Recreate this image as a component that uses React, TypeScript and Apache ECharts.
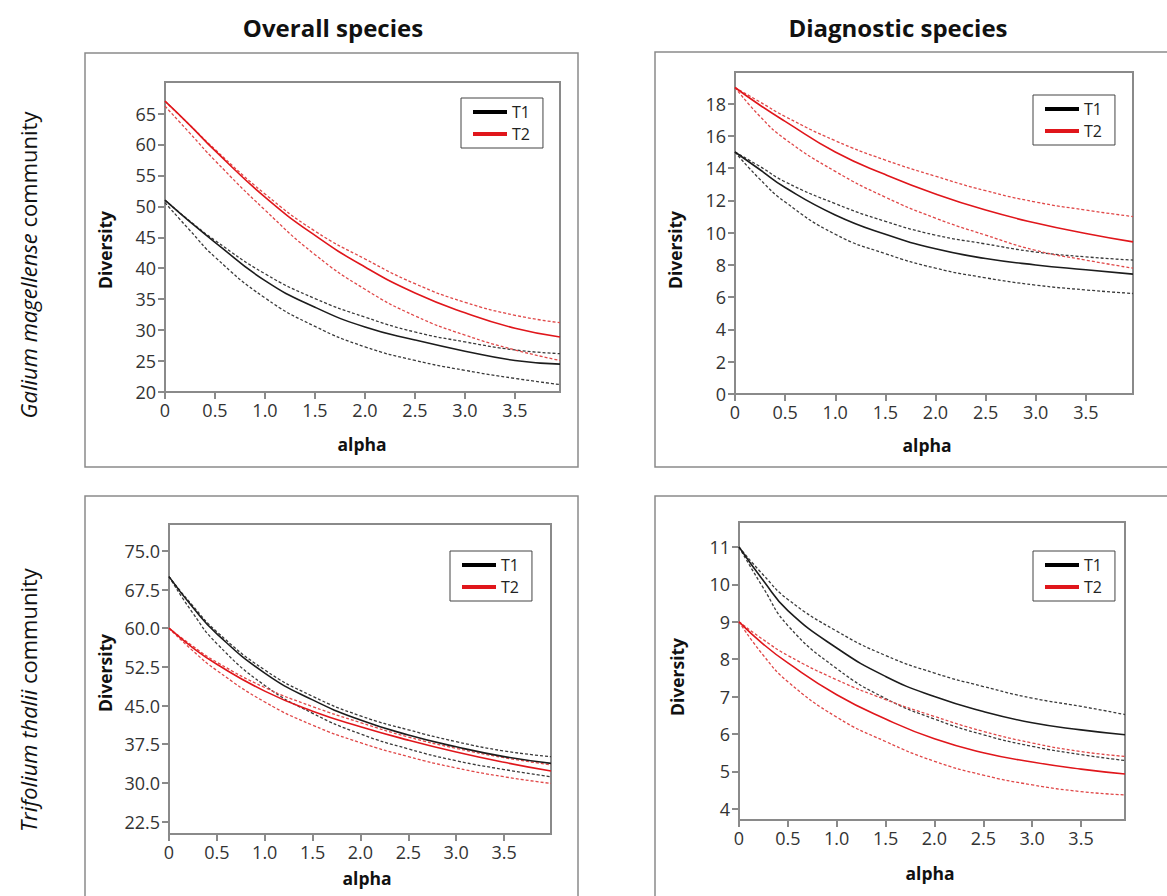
import React, { useEffect, useRef } from 'react';
import * as echarts from 'echarts';

// ---------- data ----------
const ALPHA = [0, 0.25, 0.5, 1.0, 1.5, 2.0, 2.5, 3.0, 3.5];
const X_END = [3.95, 3.97, 3.99, 3.95];
const X_TICKS = [0, 0.5, 1.0, 1.5, 2.0, 2.5, 3.0, 3.5];

const COL_TITLES = ['Overall species', 'Diagnostic species'];
const ROW_SPECIES = ['Galium magellense', 'Trifolium thalii'];
const LEGEND_NAMES = ['T1', 'T2'];

// Galium magellense – overall species
const GO_T1 = [51, 47.5, 44.2, 38.0, 33.7, 30.5, 28.4, 26.6, 25.1, 24.5];
const GO_T1_UP = [51, 47.6, 44.5, 39.1, 35.1, 32.1, 29.7, 28.1, 26.8, 26.2];
const GO_T1_LO = [50.6, 46.1, 41.8, 35.2, 30.6, 27.3, 25.1, 23.5, 22.2, 21.2];
const GO_T2 = [67, 63.1, 59.0, 51.5, 45.3, 40.2, 36.0, 32.8, 30.3, 28.9];
const GO_T2_UP = [67, 63.1, 59.2, 52.0, 46.0, 41.5, 37.5, 34.5, 32.4, 31.2];
const GO_T2_LO = [66.2, 61.8, 57.4, 49.4, 42.2, 36.6, 32.3, 29.2, 26.8, 25.1];

// Galium magellense – diagnostic species
const GD_T1 = [15, 13.9, 12.8, 11.1, 9.9, 9.0, 8.4, 8.0, 7.7, 7.43];
const GD_T1_UP = [15, 14.1, 13.15, 11.8, 10.7, 9.85, 9.3, 8.8, 8.5, 8.3];
const GD_T1_LO = [15, 13.3, 11.9, 9.9, 8.7, 7.8, 7.2, 6.75, 6.45, 6.23];
const GD_T2 = [19, 17.9, 16.9, 15.0, 13.6, 12.4, 11.4, 10.6, 9.95, 9.43];
const GD_T2_UP = [19, 18.1, 17.2, 15.7, 14.5, 13.5, 12.6, 11.9, 11.4, 11.0];
const GD_T2_LO = [19, 17.2, 15.8, 13.8, 12.2, 10.9, 9.85, 8.9, 8.3, 7.8];

// Trifolium thalii – overall species
const TO_T1 = [70, 64.0, 58.9, 51.3, 46.1, 42.2, 39.3, 37.0, 35.1, 33.8];
const TO_T1_UP = [70, 64.3, 59.3, 51.9, 46.8, 43.0, 40.3, 38.0, 36.2, 35.1];
const TO_T1_LO = [70, 62.9, 57.0, 48.9, 43.5, 39.5, 36.6, 34.3, 32.6, 31.2];
const TO_T2 = [60, 56.2, 53.0, 47.8, 43.9, 40.9, 38.3, 36.0, 34.0, 32.3];
const TO_T2_UP = [60, 56.5, 53.4, 48.5, 44.8, 41.7, 38.9, 36.7, 34.9, 33.5];
const TO_T2_LO = [60, 55.6, 51.8, 45.7, 41.2, 37.8, 35.1, 32.9, 31.2, 29.9];

// Trifolium thalii – diagnostic species
const TD_T1 = [11, 10.1, 9.3, 8.3, 7.54, 7.0, 6.6, 6.3, 6.11, 5.98];
const TD_T1_UP = [11, 10.25, 9.6, 8.75, 8.1, 7.63, 7.27, 6.96, 6.74, 6.52];
const TD_T1_LO = [11, 9.9, 8.9, 7.75, 6.95, 6.4, 5.98, 5.67, 5.45, 5.29];
const TD_T2 = [9, 8.4, 7.9, 7.05, 6.4, 5.87, 5.5, 5.25, 5.06, 4.93];
const TD_T2_UP = [9, 8.52, 8.1, 7.45, 6.92, 6.47, 6.07, 5.76, 5.53, 5.4];
const TD_T2_LO = [9, 8.1, 7.4, 6.45, 5.8, 5.27, 4.9, 4.64, 4.46, 4.37];

const Y_TICKS_GO = [20, 25, 30, 35, 40, 45, 50, 55, 60, 65];
const Y_TICKS_GD = [0, 2, 4, 6, 8, 10, 12, 14, 16, 18];
const Y_TICKS_TO = [22.5, 30, 37.5, 45, 52.5, 60, 67.5, 75];
const Y_TICKS_TD = [4, 5, 6, 7, 8, 9, 10, 11];

// ---------- styling ----------
const FONT = 'Open Sans';
const BLACK = '#1c1c1c';
const BLACK_DASH = '#3a3a3a';
const RED = '#e0161b';
const RED_DASH = '#e04848';
const FRAME = '#8a8a8a';

const panels = [
  {
    grid: { left: 165, top: 82, width: 395, height: 310 },
    y: [20, 70.1], yTicks: Y_TICKS_GO, dec: 0,
    lines: [GO_T1, GO_T1_UP, GO_T1_LO, GO_T2, GO_T2_UP, GO_T2_LO],
    legend: { left: 461, top: 98 },
    frame: { x: 85, y: 53, width: 493, height: 414 },
    yName: [105, 250], xName: [362, 444],
  },
  {
    grid: { left: 735, top: 72, width: 398, height: 322 },
    y: [0, 19.96], yTicks: Y_TICKS_GD, dec: 0,
    lines: [GD_T1, GD_T1_UP, GD_T1_LO, GD_T2, GD_T2_UP, GD_T2_LO],
    legend: { left: 1033, top: 95 },
    frame: { x: 655, y: 52, width: 530, height: 415 },
    yName: [675, 250], xName: [927, 445],
  },
  {
    grid: { left: 169, top: 524, width: 382, height: 310 },
    y: [20.1, 80.2], yTicks: Y_TICKS_TO, dec: 1,
    lines: [TO_T1, TO_T1_UP, TO_T1_LO, TO_T2, TO_T2_UP, TO_T2_LO],
    legend: { left: 450, top: 551 },
    frame: { x: 85, y: 496, width: 493, height: 420 },
    yName: [105, 673], xName: [367, 878],
  },
  {
    grid: { left: 739, top: 522, width: 386, height: 298 },
    y: [3.7, 11.67], yTicks: Y_TICKS_TD, dec: 0,
    lines: [TD_T1, TD_T1_UP, TD_T1_LO, TD_T2, TD_T2_UP, TD_T2_LO],
    legend: { left: 1033, top: 551 },
    frame: { x: 655, y: 496, width: 530, height: 420 },
    yName: [677, 677], xName: [930, 873],
  },
];

function buildOption() {
  const grid: any[] = [];
  const xAxis: any[] = [];
  const yAxis: any[] = [];
  const series: any[] = [];
  const legend: any[] = [];
  const graphic: any[] = [];

  panels.forEach((p, i) => {
    grid.push({ ...p.grid, show: true, borderColor: FRAME, borderWidth: 2, backgroundColor: 'transparent' });
    xAxis.push({
      type: 'value', gridIndex: i, min: 0, max: X_END[i],
      axisLine: { show: true, onZero: false, lineStyle: { color: FRAME, width: 2 } },
      axisTick: { show: true, length: 7, customValues: X_TICKS, lineStyle: { color: FRAME, width: 2 } },
      axisLabel: {
        customValues: X_TICKS, margin: 9, fontSize: 18, color: '#333', fontFamily: FONT,
        formatter: (v: number) => (v === 0 ? '0' : v.toFixed(1)),
      },
      splitLine: { show: false },
    });
    yAxis.push({
      type: 'value', gridIndex: i, min: p.y[0], max: p.y[1],
      axisLine: { show: true, onZero: false, lineStyle: { color: FRAME, width: 2 } },
      axisTick: { show: true, length: 7, customValues: p.yTicks, lineStyle: { color: FRAME, width: 2 } },
      axisLabel: {
        customValues: p.yTicks, margin: 9, fontSize: 18, color: '#333', fontFamily: FONT,
        formatter: (v: number) => v.toFixed(p.dec),
      },
      splitLine: { show: false },
    });
    const xs = [...ALPHA, X_END[i]];
    p.lines.forEach((vals, k) => {
      const isT2 = k >= 3;
      const solid = k % 3 === 0;
      const color = isT2 ? (solid ? RED : RED_DASH) : (solid ? BLACK : BLACK_DASH);
      series.push({
        type: 'line',
        name: solid ? LEGEND_NAMES[isT2 ? 1 : 0] : `${LEGEND_NAMES[isT2 ? 1 : 0]} ${k % 3 === 1 ? 'upper' : 'lower'}`,
        xAxisIndex: i, yAxisIndex: i,
        data: xs.map((x, j) => [x, vals[j]]),
        showSymbol: false, symbol: 'none',
        smooth: 0.5,
        color: isT2 ? RED : BLACK,
        lineStyle: { color, width: solid ? 1.6 : 1.3, type: solid ? 'solid' : [3, 2] },
        z: solid ? 3 : 2,
      });
    });
    legend.push({
      show: true, orient: 'vertical', left: p.legend.left, top: p.legend.top,
      data: [
        { name: 'T1', itemStyle: { color: '#000' } },
        { name: 'T2', itemStyle: { color: RED } },
      ],
      icon: 'rect', itemWidth: 34, itemHeight: 4, itemGap: 2,
      borderColor: '#444', borderWidth: 1, borderRadius: 0,
      padding: [4, 13, 4, 12], selectedMode: false,
      textStyle: { fontSize: 16, lineHeight: 20, color: '#222', fontFamily: FONT },
    });
    graphic.push({
      type: 'rect', shape: p.frame, silent: true, z: -1,
      style: { fill: 'none', stroke: FRAME, lineWidth: 1.5 },
    });
    graphic.push({
      type: 'text', x: p.yName[0], y: p.yName[1], rotation: Math.PI / 2,
      style: { text: 'Diversity', fontFamily: FONT, fontWeight: 'bold', fontSize: 17.5, fill: '#111', align: 'center', verticalAlign: 'middle' },
    });
    graphic.push({
      type: 'text', x: p.xName[0], y: p.xName[1],
      style: { text: 'alpha', fontFamily: FONT, fontWeight: 'bold', fontSize: 17.5, fill: '#111', align: 'center', verticalAlign: 'middle' },
    });
  });

  // column titles
  [[333, 27], [898, 27]].forEach((pos, i) => {
    graphic.push({
      type: 'text', x: pos[0], y: pos[1],
      style: { text: COL_TITLES[i], fontFamily: FONT, fontWeight: 'bold', fontSize: 24, fill: '#111', align: 'center', verticalAlign: 'middle' },
    });
  });
  // row labels
  [[28, 265], [28, 700]].forEach((pos, i) => {
    graphic.push({
      type: 'text', x: pos[0], y: pos[1], rotation: Math.PI / 2,
      style: {
        text: `{i|${ROW_SPECIES[i]}} community`,
        fontFamily: FONT, fontSize: 22, fill: '#111', align: 'center', verticalAlign: 'middle',
        rich: { i: { fontStyle: 'italic', fontFamily: FONT, fontSize: 22, fill: '#111' } },
      },
    });
  });

  return {
    animation: false,
    backgroundColor: '#fff',
    grid, xAxis, yAxis, series, legend, graphic,
  };
}

export default function App() {
  const ref = useRef<HTMLDivElement>(null);
  useEffect(() => {
    const chart = echarts.init(ref.current!, null, { renderer: 'svg' });
    chart.setOption(buildOption() as any);
    return () => chart.dispose();
  }, []);
  return (
    <div
      ref={ref}
      style={{ position: 'fixed', left: 0, top: 0, width: 1167, height: 896, background: '#fff' }}
    />
  );
}
